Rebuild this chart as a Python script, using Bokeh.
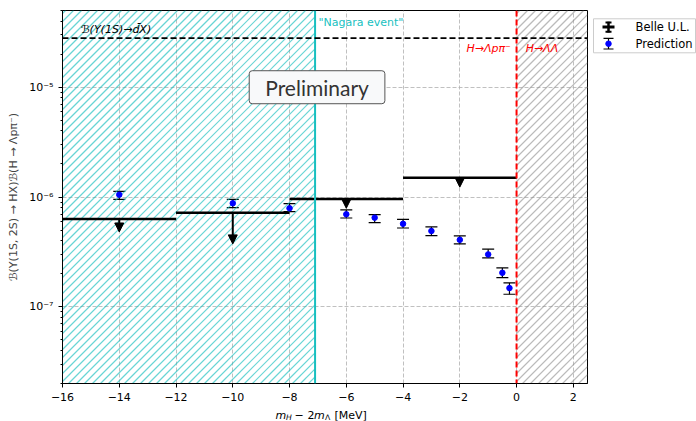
import math
from bokeh.plotting import figure
from bokeh.layouts import row
from bokeh.models import (ColumnDataSource, Span, Label, Whisker, TeeHead,
                          Arrow, NormalHead, FixedTicker, CustomJSTickFormatter, Range1d)
from bokeh.core.properties import value
from bokeh.embed import file_html
from bokeh.resources import INLINE

# ---------------- data ----------------
belle_lo = [-16, -12, -8, -4]
belle_hi = [-12, -8, -4, 0]
belle_center = [-14, -10, -6, -2]
belle_ul = [6.3e-7, 7.2e-7, 9.6e-7, 1.5e-6]
belle_arrow_end = [4.8e-7, 3.74e-7, 7.9e-7, 1.23e-6]

pred_x = [-14, -10, -8, -6, -5, -4, -3, -2, -1, -0.5, -0.25]
pred_y = [1.05e-6, 8.77e-7, 7.9e-7, 6.96e-7, 6.48e-7, 5.7e-7, 4.9e-7, 4.07e-7, 3.0e-7, 2.04e-7, 1.48e-7]
pred_up = [1.127e-6, 9.53e-7, 8.69e-7, 7.62e-7, 6.9e-7, 6.26e-7, 5.34e-7, 4.42e-7, 3.35e-7, 2.26e-7, 1.65e-7]
pred_lo = [9.53e-7, 8.0e-7, 7.35e-7, 6.44e-7, 5.83e-7, 5.22e-7, 4.45e-7, 3.74e-7, 2.79e-7, 1.84e-7, 1.30e-7]

legend_labels = ["Belle U.L.", "Prediction"]

nagara_x = -7.1
threshold_x = 0.0
dX_ul = 2.8e-5

x_ticks = [-16, -14, -12, -10, -8, -6, -4, -2, 0, 2]
y_ticks = [1e-7, 1e-6, 1e-5]

TEAL = "#17bfbf"
FONT = "DejaVu Sans"
FS = "11px"
XMIN, XMAX = -16, 2.5
YMIN, YMAX = 2e-8, 5e-5
FW, FH = 525, 373
FL, FT = 62, 10   # frame left / top in page pixels

p = figure(frame_width=FW, frame_height=FH, y_axis_type="log",
           x_range=Range1d(XMIN, XMAX), y_range=Range1d(YMIN, YMAX),
           output_backend="svg", toolbar_location=None,
           min_border_left=FL, min_border_right=1, min_border_top=FT, min_border_bottom=38)
p.background_fill_color = "white"
p.border_fill_color = "white"
p.outline_line_color = "black"
p.outline_line_width = 1

# pixel <-> data helpers (for decorations only)
LY0, LY1 = math.log10(YMIN), math.log10(YMAX)
def px2x(px):
    return XMIN + (px - FL) * (XMAX - XMIN) / FW
def x2px(x):
    return FL + (x - XMIN) * FW / (XMAX - XMIN)
def py2y(py):
    return 10 ** (LY0 - (py - (FT + FH)) * (LY1 - LY0) / FH)

# 45-degree hatching ('///') drawn as thin segments
def hatch(x0, x1, color, alpha, spacing=8.0):
    xs0, xs1 = x2px(x0), x2px(x1)
    ys0, ys1 = FT, FT + FH
    X0, Y0, X1, Y1 = [], [], [], []
    c = xs0 + ys0 + 3
    while c < xs1 + ys1:
        lo = max(xs0, c - ys1)
        hi = min(xs1, c - ys0)
        if hi > lo:
            X0.append(px2x(lo)); Y0.append(py2y(c - lo))
            X1.append(px2x(hi)); Y1.append(py2y(c - hi))
        c += spacing
    src = ColumnDataSource(dict(x0=X0, y0=Y0, x1=X1, y1=Y1))
    p.segment(x0="x0", y0="y0", x1="x1", y1="y1", source=src,
              line_color=color, line_alpha=alpha, line_width=1.2)

hatch(XMIN, nagara_x, TEAL, 0.65)
hatch(threshold_x, XMAX, "#8c8c8c", 0.6)

p.add_layout(Span(location=nagara_x, dimension="height", line_color=TEAL, line_width=2))
p.add_layout(Span(location=threshold_x, dimension="height", line_color="red", line_width=2, line_dash="6 3"))
p.add_layout(Span(location=dX_ul, dimension="width", line_color="black", line_width=1.6, line_dash="6 3"))

# Belle upper limits
bsrc = ColumnDataSource(dict(lo=belle_lo, hi=belle_hi, xc=belle_center, ul=belle_ul, end=belle_arrow_end))
p.segment(x0="lo", x1="hi", y0="ul", y1="ul", source=bsrc, line_color="black", line_width=2.5)
p.add_layout(Arrow(x_start="xc", y_start="ul", x_end="xc", y_end="end", source=bsrc,
                   line_color="black", line_width=2,
                   end=NormalHead(size=9, fill_color="black", line_color="black")))

# predictions
psrc = ColumnDataSource(dict(x=pred_x, y=pred_y, up=pred_up, lo=pred_lo))
p.add_layout(Whisker(base="x", upper="up", lower="lo", source=psrc, dimension="height",
                     line_color="black", line_width=1.2,
                     upper_head=TeeHead(size=12, line_color="black", line_width=1.2),
                     lower_head=TeeHead(size=12, line_color="black", line_width=1.2)))
p.scatter(x="x", y="y", source=psrc, size=5.5, color="blue")

# annotations
p.add_layout(Label(x=-15.35, y=dX_ul * 1.05, text="ℬ(Υ(1S)→d̄X)", text_font=FONT, text_font_size=FS,
                   text_font_style="italic", text_baseline="bottom", text_color="black"))
p.add_layout(Label(x=nagara_x + 0.12, y=3.9e-5, text='"Nagara event"', text_font=FONT, text_font_size=FS,
                   text_baseline="middle", text_color=TEAL))
p.add_layout(Label(x=threshold_x - 0.2, y=2.26e-5, text="H→Λpπ⁻", text_font=FONT, text_font_size=FS,
                   text_font_style="italic", text_baseline="middle", text_align="right", text_color="red"))
p.add_layout(Label(x=threshold_x + 0.32, y=2.26e-5, text="H→ΛΛ", text_font=FONT, text_font_size=FS,
                   text_font_style="italic", text_baseline="middle", text_align="left", text_color="red"))
p.add_layout(Label(x=-7.03, y=1e-5, text="Preliminary", text_font="Lato", text_font_size="21px",
                   text_align="center", text_baseline="middle", text_color="#333333",
                   background_fill_color="#f8f9fa", background_fill_alpha=1.0,
                   border_line_color="#555555", border_line_width=1,
                   padding=dict(left=16, right=16, top=4, bottom=4), border_radius=3))

# x-axis label built from pieces (for subscripts), placed in the "below" panel
xlabel_parts = [
    ("m", 275, 414.5, FS, "italic"),
    ("H", 285.5, 417, "7.7px", "italic"),
    ("−", 294, 414.5, FS, "normal"),
    ("2", 307, 414.5, FS, "normal"),
    ("m", 313.5, 414.5, FS, "italic"),
    ("Λ", 324.5, 417, "7.7px", "normal"),
    ("[MeV]", 334, 414.5, FS, "normal"),
]
for txt, px, py, fs, st in xlabel_parts:
    p.add_layout(Label(x=px2x(px), y=py2y(py), text=txt, text_font=FONT, text_font_size=fs,
                       text_font_style=st, text_baseline="alphabetic", text_align="left",
                       text_color="black"), "below")

# axes
p.xaxis.ticker = FixedTicker(ticks=x_ticks)
p.xaxis.formatter = CustomJSTickFormatter(code="return tick < 0 ? '\\u2212' + Math.abs(tick) : String(tick);")
minor = [m * 10.0 ** e for e in range(-8, -4) for m in range(2, 10)]
p.yaxis.ticker = FixedTicker(ticks=y_ticks, minor_ticks=minor)
p.yaxis.formatter = CustomJSTickFormatter(code="""
const e = Math.round(Math.log10(tick));
const sup = {'-':'\\u207b','0':'\\u2070','1':'\\u00b9','2':'\\u00b2','3':'\\u00b3','4':'\\u2074','5':'\\u2075','6':'\\u2076','7':'\\u2077','8':'\\u2078','9':'\\u2079'};
return '10' + String(e).split('').map(c => sup[c]).join('');
""")
for ax in (p.xaxis[0], p.yaxis[0]):
    ax.major_label_text_font = FONT
    ax.major_label_text_font_size = FS
    ax.major_label_text_color = "black"
    ax.axis_label_text_font = FONT
    ax.axis_label_text_font_size = FS
    ax.axis_label_text_font_style = "normal"
    ax.major_tick_in = 0
    ax.major_tick_out = 4
    ax.minor_tick_in = 0
    ax.minor_tick_out = 2
    ax.axis_line_color = "black"
    ax.major_tick_line_color = "black"
p.xaxis.minor_tick_line_color = None
p.yaxis.axis_label = "ℬ(Υ(1S, 2S) → HX)ℬ(H → Λpπ⁻)"
p.yaxis.axis_label_standoff = 6

p.grid.grid_line_color = "#b0b0b0"
p.grid.grid_line_dash = "4 2"
p.grid.grid_line_width = 0.8

# ---------------- legend panel (separate small figure, pixel coordinates) ----------------
LW, LH = 108, FT + FH + 38
leg = figure(width=LW, height=LH, x_range=Range1d(0, LW), y_range=Range1d(LH, 0),
             output_backend="svg", toolbar_location=None,
             min_border=0, outline_line_color=None)
leg.axis.visible = False
leg.grid.visible = False
leg.background_fill_color = "white"
leg.border_fill_color = "white"
leg.quad(left=[5], right=[LW - 1], top=[11], bottom=[56], fill_color="white",
         line_color="#cccccc", line_width=1)
# Belle U.L. symbol
leg.segment(x0=[14], x1=[26], y0=[22], y1=[22], line_color="black", line_width=3)
leg.segment(x0=[20], x1=[20], y0=[15], y1=[29], line_color="black", line_width=2.5)
leg.segment(x0=[17, 17], x1=[23, 23], y0=[16, 28], y1=[16, 28], line_color="black", line_width=2)
# Prediction symbol
leg.segment(x0=[20], x1=[20], y0=[37], y1=[51], line_color="black", line_width=1.2)
leg.segment(x0=[15, 15], x1=[25, 25], y0=[37, 51], y1=[37, 51], line_color="black", line_width=1.2)
leg.scatter(x=[20], y=[44], size=5.5, color="blue")
leg.text(x=[47, 47], y=[22, 44], text=legend_labels, text_font=value(FONT), text_font_size="11.5px",
         text_baseline="middle", text_align="left", text_color="black")

open("out.html", "w").write(file_html(row(p, leg), INLINE))
